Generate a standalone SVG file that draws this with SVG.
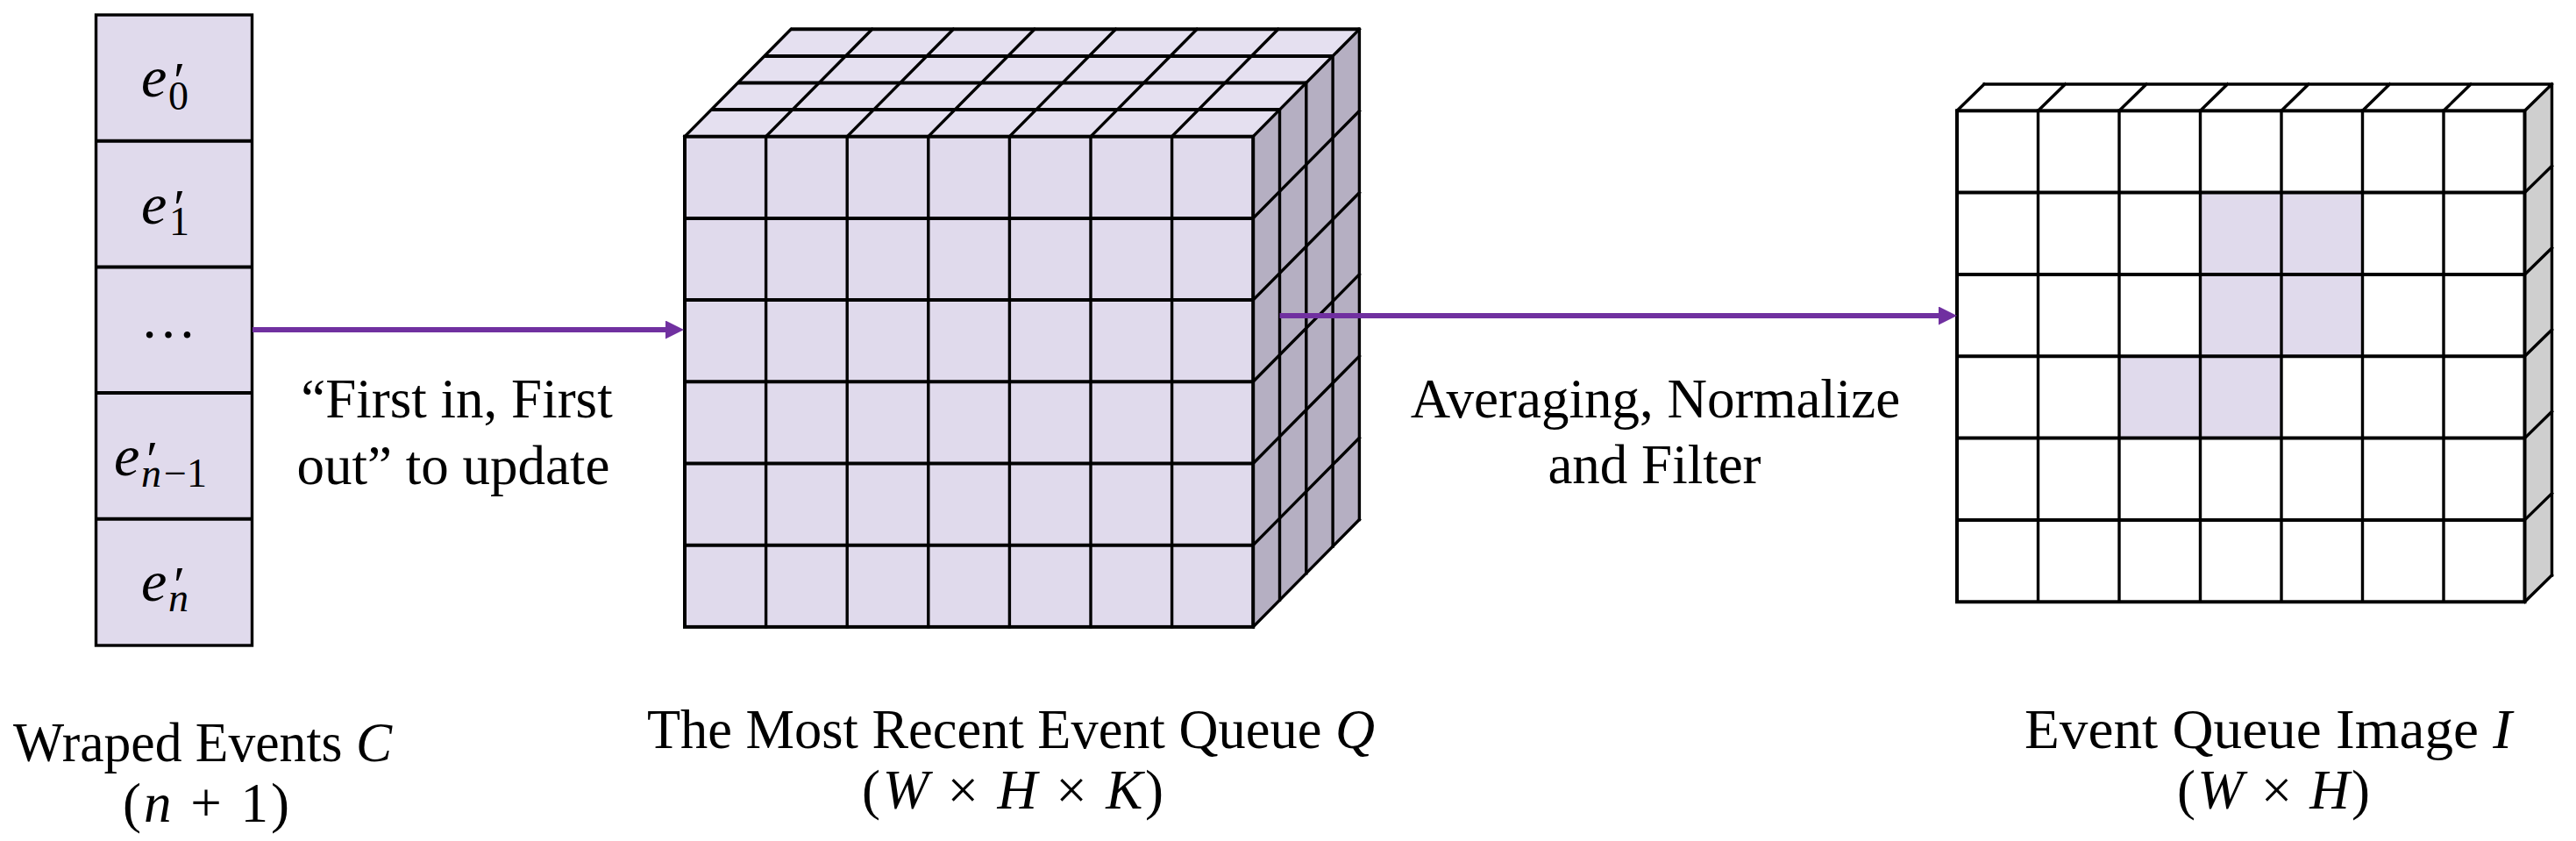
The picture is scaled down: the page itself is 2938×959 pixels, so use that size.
<svg xmlns="http://www.w3.org/2000/svg" width="2938" height="959" viewBox="0 0 2938 959">
<style>
text{font-family:"Liberation Serif","Times New Roman",serif;fill:#000}
.lbl{font-size:63px}
.m{font-style:italic}
.sub{font-size:46px;font-style:normal}
.subi{font-size:46px;font-style:italic}
.pr{font-size:60px;font-style:normal}
.ln{fill:none;stroke:#000;stroke-width:3.4;stroke-linecap:square}
.hz{fill:none;stroke:#000;stroke-width:4}
.lil{fill:#E0DAEC}
.lilt{fill:#E5E0F0}
.side{fill:#B5AFC2}
.gside{fill:#CFCFCF}
.arr{stroke:#7030A0;stroke-width:6;fill:none}
</style>
<defs>
<marker id="ah" markerUnits="userSpaceOnUse" markerWidth="22" markerHeight="21" refX="9" refY="10.5" orient="auto">
<path d="M0,0 L21,10.5 L0,21 z" fill="#7030A0"/>
</marker>
</defs>
<rect width="2938" height="959" fill="#fff"/>

<g id="wraped-events">
<rect x="109.5" y="17" width="178" height="719" class="lil"/>
<path class="hz" d="M109.5 160.7H287.5M109.5 304.4H287.5M109.5 448.1H287.5M109.5 591.8H287.5"/>
<rect x="109.5" y="17" width="178" height="719" class="ln"/>
<text font-size="66"><tspan x="161" y="110" class="m">e</tspan><tspan x="198" y="112" class="pr">′</tspan><tspan x="192" y="125" class="sub">0</tspan></text>
<text font-size="66"><tspan x="161" y="255" class="m">e</tspan><tspan x="198" y="257" class="pr">′</tspan><tspan x="193" y="268" class="sub">1</tspan></text>
<text x="192" y="385" font-size="64" text-anchor="middle">…</text>
<text font-size="66"><tspan x="130" y="542" class="m">e</tspan><tspan x="167" y="544" class="pr">′</tspan><tspan x="161" y="555" class="subi">n</tspan><tspan class="sub" dx="3">−1</tspan></text>
<text font-size="66"><tspan x="161" y="685" class="m">e</tspan><tspan x="198" y="687" class="pr">′</tspan><tspan x="192" y="697" class="subi">n</tspan></text>
<text x="15" y="868" class="lbl" textLength="432" lengthAdjust="spacingAndGlyphs">Wraped Events <tspan class="m">C</tspan></text>
<text x="235" y="937" class="lbl" text-anchor="middle" textLength="190" lengthAdjust="spacing">(<tspan class="m">n</tspan> + 1)</text>
</g>

<g id="event-queue">
<rect x="781" y="155.7" width="648.2" height="559.2" class="lil"/>
<polygon points="781,155.7 1429.2,155.7 1550.4,33.3 902.2,33.3" class="lilt"/>
<polygon points="1429.2,155.7 1550.4,33.3 1550.4,592.5 1429.2,714.9" class="side"/>
<path class="ln" d="M873.6 155.7V714.9M966.2 155.7V714.9M1058.8 155.7V714.9M1151.4 155.7V714.9M1244 155.7V714.9M1336.6 155.7V714.9"/>
<path class="hz" d="M781 248.9H1429.2M781 342.1H1429.2M781 435.3H1429.2M781 528.5H1429.2M781 621.7H1429.2"/>
<path class="ln" d="M781 155.7L902.2 33.3M873.6 155.7L994.8 33.3M966.2 155.7L1087.4 33.3M1058.8 155.7L1180 33.3M1151.4 155.7L1272.6 33.3M1244 155.7L1365.2 33.3M1336.6 155.7L1457.8 33.3M1429.2 155.7L1550.4 33.3"/>
<path class="hz" d="M811.3 125.1H1459.5M841.6 94.5H1489.8M871.9 63.9H1520.1M902.2 33.3H1550.4"/>
<path class="ln" d="M1459.5 125.1V684.3M1489.8 94.5V653.7M1520.1 63.9V623.1M1550.4 33.3V592.5"/>
<path class="ln" d="M1429.2 248.9L1550.4 126.5M1429.2 342.1L1550.4 219.7M1429.2 435.3L1550.4 312.9M1429.2 528.5L1550.4 406.1M1429.2 621.7L1550.4 499.3M1429.2 714.9L1550.4 592.5"/>
<rect x="781" y="155.7" width="648.2" height="559.2" class="ln" style="stroke-width:4"/>
<text x="1153" y="853" class="lbl" text-anchor="middle" textLength="830" lengthAdjust="spacingAndGlyphs">The Most Recent Event Queue <tspan class="m">Q</tspan></text>
<text x="1155" y="922" class="lbl" text-anchor="middle" textLength="344" lengthAdjust="spacing">(<tspan class="m">W</tspan> × <tspan class="m">H</tspan> × <tspan class="m">K</tspan>)</text>
</g>

<g id="event-image">
<rect x="2232" y="126.3" width="647.5" height="560" fill="#fff"/>
<rect x="2509.5" y="219.6" width="185" height="186.7" class="lil"/>
<rect x="2417" y="406.3" width="185" height="93.3" class="lil"/>
<polygon points="2232,126.3 2879.5,126.3 2910.5,96 2263,96" fill="#fff"/>
<polygon points="2879.5,126.3 2910.5,96 2910.5,656 2879.5,686.3" class="gside"/>
<path class="ln" d="M2324.5 126.3V686.3M2417 126.3V686.3M2509.5 126.3V686.3M2602 126.3V686.3M2694.5 126.3V686.3M2787 126.3V686.3"/>
<path class="hz" d="M2232 219.6H2879.5M2232 313H2879.5M2232 406.3H2879.5M2232 499.6H2879.5M2232 592.9H2879.5"/>
<path class="ln" d="M2232 126.3L2263 96M2324.5 126.3L2355.5 96M2417 126.3L2448 96M2509.5 126.3L2540.5 96M2602 126.3L2633 96M2694.5 126.3L2725.5 96M2787 126.3L2818 96M2879.5 126.3L2910.5 96M2263 96H2910.5V656"/>
<path class="ln" d="M2879.5 219.6L2910.5 189.3M2879.5 313L2910.5 282.7M2879.5 406.3L2910.5 376M2879.5 499.6L2910.5 469.3M2879.5 592.9L2910.5 562.6M2879.5 686.3L2910.5 656"/>
<rect x="2232" y="126.3" width="647.5" height="560" class="ln" style="stroke-width:4"/>
<text x="2309" y="853" class="lbl" textLength="556" lengthAdjust="spacingAndGlyphs">Event Queue Image <tspan class="m">I</tspan></text>
<text x="2593" y="922" class="lbl" text-anchor="middle" textLength="220" lengthAdjust="spacing">(<tspan class="m">W</tspan> × <tspan class="m">H</tspan>)</text>
</g>

<g id="connectors">
<line x1="288" y1="376" x2="768" y2="376" class="arr" marker-end="url(#ah)"/>
<line x1="1459.5" y1="360" x2="2220" y2="360" class="arr" marker-end="url(#ah)"/>
<text x="521" y="476" class="lbl" text-anchor="middle">“First in, First</text>
<text x="517" y="552" class="lbl" text-anchor="middle">out” to update</text>
<text x="1888" y="476" class="lbl" text-anchor="middle">Averaging, Normalize</text>
<text x="1887" y="551" class="lbl" text-anchor="middle">and Filter</text>
</g>
</svg>
